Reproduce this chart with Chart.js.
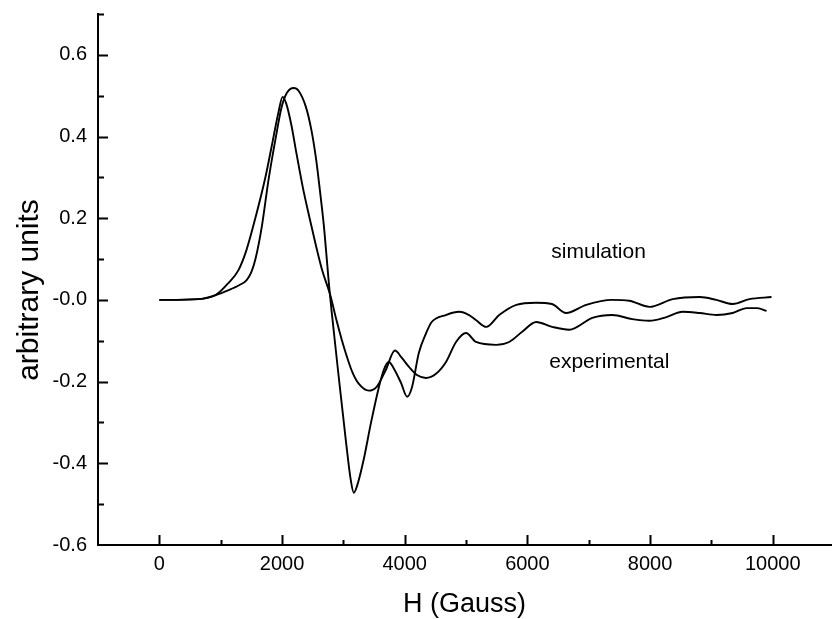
<!DOCTYPE html>
<html><head><meta charset="utf-8">
<script src="https://cdn.jsdelivr.net/npm/chart.js@4/dist/chart.umd.min.js"></script>
<style>html,body{margin:0;padding:0;background:#fff}</style>
</head><body>
<canvas id="c" width="832" height="619" style="display:block;width:832px;height:619px"></canvas>
<script>
// ---- data ----
const simH = [0,640,920,1130,1300,1420,1500,1570,1670,1780,1900,1990,2080,2190,2270,2390,2480,2560,2620,2680,2730,2770,2810,2930,3040,3120,3170,3220,3330,3450,3580,3660,3740,3820,3940,4040,4120,4230,4350,4440,4670,4890,5050,5160,5330,5540,5820,6140,6400,6630,6960,7380,7660,7990,8370,8810,9080,9350,9620,9980];
const simY = [0,0.002,0.012,0.024,0.036,0.048,0.068,0.102,0.179,0.294,0.399,0.470,0.507,0.519,0.512,0.472,0.415,0.34,0.265,0.185,0.10,0.03,-0.03,-0.196,-0.343,-0.44,-0.472,-0.457,-0.392,-0.301,-0.213,-0.171,-0.152,-0.167,-0.203,-0.237,-0.213,-0.130,-0.081,-0.054,-0.037,-0.029,-0.037,-0.049,-0.066,-0.037,-0.012,-0.007,-0.010,-0.032,-0.012,0.0,-0.002,-0.017,0.002,0.007,0.0,-0.010,0.002,0.007];
const expH = [0,640,920,1130,1290,1420,1570,1730,1830,1940,2010,2070,2150,2240,2340,2450,2550,2650,2794,2880,2975,3060,3150,3250,3415,3546,3693,3840,3954,4070,4200,4346,4510,4673,4837,5000,5163,5490,5703,5915,6144,6405,6683,7059,7386,7712,7990,8268,8529,8807,9085,9346,9575,9750,9900];
const expY = [0,0.002,0.012,0.042,0.073,0.122,0.203,0.301,0.375,0.458,0.497,0.48,0.43,0.355,0.275,0.2,0.135,0.075,0.008,-0.045,-0.098,-0.14,-0.178,-0.205,-0.222,-0.212,-0.171,-0.124,-0.142,-0.164,-0.184,-0.191,-0.181,-0.152,-0.103,-0.081,-0.103,-0.110,-0.103,-0.078,-0.054,-0.066,-0.073,-0.044,-0.037,-0.047,-0.051,-0.042,-0.029,-0.032,-0.037,-0.032,-0.020,-0.020,-0.027];
const xTickValues = [0,2000,4000,6000,8000,10000];
const xTickLabels = ['0','2000','4000','6000','8000','10000'];
const yTickLabels = ['-0.6','-0.4','-0.2','-0.0','0.2','0.4','0.6'];
const seriesNames = ['simulation','experimental'];
const labelAnchors = [[6390,0.117],[6356,-0.152]];
const xTitle = 'H (Gauss)';
const yTitle = 'arbitrary units';

const FONT = '"Liberation Sans", Arial, Helvetica, sans-serif';
const toPts = (xs, ys) => xs.map((x, i) => ({x, y: ys[i]}));

const decor = {
  id: 'decor',
  afterDraw(chart) {
    const ctx = chart.ctx, xs = chart.scales.x, ys = chart.scales.y, ca = chart.chartArea;
    ctx.save();
    ctx.strokeStyle = '#000';
    ctx.lineWidth = 2;
    ctx.beginPath();
    for (let v = 0; v <= 10000; v += 1000) {
      const px = Math.round(xs.getPixelForValue(v)) + 0.5;
      const len = (v % 2000 === 0) ? 10 : 5;
      ctx.moveTo(px, ca.bottom);
      ctx.lineTo(px, ca.bottom - len);
    }
    for (let i = -5; i <= 7; i++) {
      const py = Math.round(ys.getPixelForValue(i / 10)) + 0.5;
      const len = (i % 2 === 0) ? 10 : 6;
      ctx.moveTo(ca.left, py);
      ctx.lineTo(ca.left + len, py);
    }
    ctx.stroke();
    ctx.fillStyle = '#000';
    // x tick labels
    ctx.font = '20px ' + FONT;
    ctx.textAlign = 'center';
    ctx.textBaseline = 'middle';
    xTickValues.forEach((v, i) => ctx.fillText(xTickLabels[i], xs.getPixelForValue(v), ca.bottom + 19));
    // in-plot series labels
    ctx.font = '21px ' + FONT;
    ctx.textAlign = 'left';
    seriesNames.forEach((n, i) => {
      ctx.fillText(n, xs.getPixelForValue(labelAnchors[i][0]), ys.getPixelForValue(labelAnchors[i][1]));
    });
    // axis titles
    ctx.font = '27px ' + FONT;
    ctx.textAlign = 'center';
    ctx.fillText(xTitle, (ca.left + ca.right) / 2, 605);
    ctx.translate(30, 290);
    ctx.rotate(-Math.PI / 2);
    ctx.font = '30px ' + FONT;
    ctx.fillText(yTitle, 0, 0);
    ctx.restore();
  }
};

new Chart(document.getElementById('c'), {
  type: 'line',
  data: {
    datasets: [
      {label: seriesNames[0], data: toPts(simH, simY), borderColor: '#000', borderWidth: 1.9, pointRadius: 0, cubicInterpolationMode: 'monotone', fill: false},
      {label: seriesNames[1], data: toPts(expH, expY), borderColor: '#000', borderWidth: 1.9, pointRadius: 0, cubicInterpolationMode: 'monotone', fill: false}
    ]
  },
  options: {
    responsive: false,
    animation: false,
    devicePixelRatio: 1,
    layout: {padding: {top: 14, right: 1, left: 0, bottom: 0}},
    plugins: {legend: {display: false}, tooltip: {enabled: false}},
    scales: {
      x: {
        type: 'linear', min: -1000, max: 10950,
        afterFit: s => { s.height = 74; s.paddingLeft = 0; s.paddingRight = 0; },
        grid: {drawOnChartArea: false, drawTicks: false},
        border: {color: '#000', width: 2},
        ticks: {display: false, stepSize: 1000}
      },
      y: {
        type: 'linear', min: -0.6, max: 0.7,
        afterFit: s => { s.width = 98; s.paddingTop = 0; s.paddingBottom = 0; },
        grid: {drawOnChartArea: false, drawTicks: false},
        border: {color: '#000', width: 2},
        ticks: {
          stepSize: 0.1, autoSkip: false, padding: 11,
          color: '#000', font: {family: FONT, size: 20},
          callback: v => {
            const r = Math.round(v * 10);
            if (r % 2 === 0 && r >= -6 && r <= 6) return yTickLabels[(r + 6) / 2];
            return '';
          }
        }
      }
    }
  },
  plugins: [decor]
});
</script>
</body></html>
